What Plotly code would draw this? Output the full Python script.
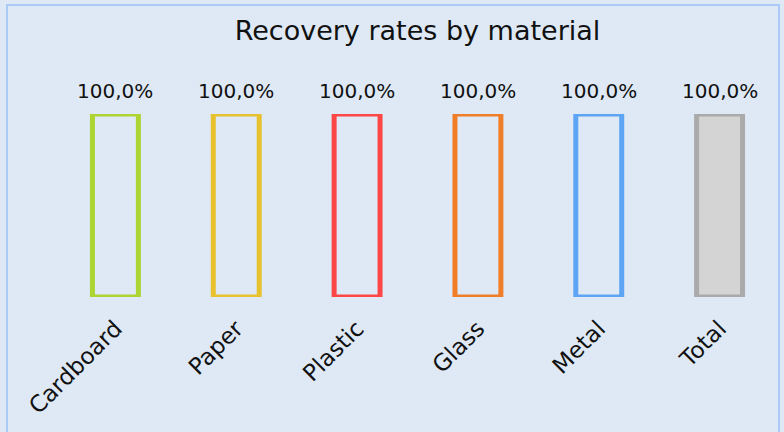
import plotly.graph_objects as go

categories = ["Cardboard", "Paper", "Plastic", "Glass", "Metal", "Total"]
values = [100.0, 100.0, 100.0, 100.0, 100.0, 100.0]
labels = ["100,0%", "100,0%", "100,0%", "100,0%", "100,0%", "100,0%"]
line_colors = ["#acd433", "#e8c12f", "#ff4646", "#f07d28", "#5ea4f5", "#aaaaaa"]
fill_colors = ["rgba(0,0,0,0)"] * 5 + ["#d4d4d4"]

FONT = "DejaVu Sans"
BG = "#dee9f5"

fig = go.Figure(go.Bar(
    x=categories, y=values,
    marker=dict(color=fill_colors, line=dict(color=line_colors, width=5)),
    width=0.38, cliponaxis=False, hoverinfo="skip",
))

for c, v, t in zip(categories, values, labels):
    fig.add_annotation(x=c, y=v, text=t, showarrow=False, yanchor="bottom",
                       yshift=9, font=dict(family=FONT, size=20, color="#111111"))

L, R, T, B = 55, 4, 114, 135
W, H = 784, 432
pw, ph = W - L - R, H - T - B

def px_x(x):
    return (x - L) / pw

def px_y(y):
    return (H - B - y) / ph

fig.add_shape(type="rect", xref="paper", yref="paper",
              x0=px_x(7), x1=px_x(779), y0=px_y(440), y1=px_y(5),
              line=dict(color="#a9cbf5", width=2), fillcolor="rgba(0,0,0,0)", layer="below")

fig.update_layout(
    width=W, height=H,
    margin=dict(l=L, r=R, t=T, b=B, autoexpand=False),
    paper_bgcolor=BG, plot_bgcolor=BG,
    showlegend=False,
    title=dict(text="Recovery rates by material", x=0.5, xref="paper",
               y=1 - 31 / H, yanchor="middle", xanchor="center",
               font=dict(family=FONT, size=27, color="#111111")),
    font=dict(family=FONT),
)
fig.update_xaxes(tickangle=-45, tickfont=dict(family=FONT, size=23, color="#111111"),
                 showgrid=False, zeroline=False, showline=False, automargin=False,
                 ticks="outside", ticklen=8, tickcolor="rgba(0,0,0,0)")
fig.update_yaxes(range=[0, 100], visible=False, showgrid=False, zeroline=False,
                 automargin=False)

fig.write_html("out.html", config={"displayModeBar": False},
               post_script="document.body.style.margin='0';document.body.style.overflow='hidden';document.body.style.background='" + BG + "';")
